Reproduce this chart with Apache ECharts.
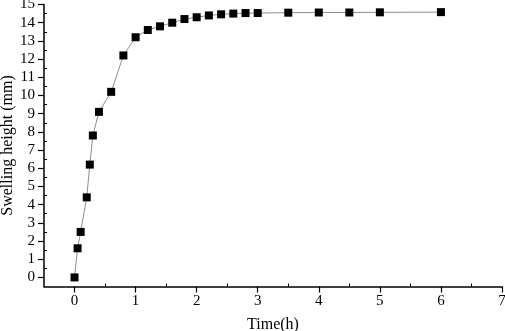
<!DOCTYPE html>
<html>
<head>
<meta charset="utf-8">
<script src="https://cdn.jsdelivr.net/npm/echarts@6/dist/echarts.min.js"></script>
<style>
  html, body { margin: 0; padding: 0; background: #fff; }
  #chart { width: 505px; height: 331px; }
</style>
</head>
<body>
<div id="chart"></div>
<script>
// Swelling test readings
const timeHours = [0, 0.05, 0.1, 0.2, 0.25, 0.3, 0.4, 0.6, 0.8, 1.0, 1.2, 1.4, 1.6, 1.8,
  2.0, 2.2, 2.4, 2.6, 2.8, 3.0, 3.5, 4.0, 4.5, 5.0, 6.0];
const swellingMm = [0, 1.6, 2.5, 4.4, 6.2, 7.8, 9.1, 10.2, 12.2, 13.2, 13.6, 13.8, 14.0, 14.2,
  14.3, 14.4, 14.46, 14.5, 14.53, 14.53, 14.55, 14.56, 14.56, 14.57, 14.58];
const xTicks = [0, 1, 2, 3, 4, 5, 6, 7];
const xMinorTicks = [0.5, 1.5, 2.5, 3.5, 4.5, 5.5, 6.5];
const yTicks = [0, 1, 2, 3, 4, 5, 6, 7, 8, 9, 10, 11, 12, 13, 14, 15];
const yMinorTicks = [0.5, 1.5, 2.5, 3.5, 4.5, 5.5, 6.5, 7.5, 8.5, 9.5, 10.5, 11.5, 12.5, 13.5, 14.5];

const serif = '"Liberation Serif", "DejaVu Serif", serif';
const chart = echarts.init(document.getElementById('chart'));

const mainAxis = (ticks) => ({
  type: 'value',
  min: -0.5,
  splitLine: { show: false },
  nameMoveOverlap: false,
  axisLine: { show: true, onZero: false, lineStyle: { color: '#000', width: 1.5 } },
  axisTick: { show: true, customValues: ticks, length: 6, lineStyle: { color: '#000', width: 1.2 } },
  axisLabel: { customValues: ticks, color: '#000', fontFamily: serif, fontSize: 15 },
});

// extra unlabeled axes carry the inward half-step ticks
const minorAxis = (ticks) => ({
  type: 'value',
  min: -0.5,
  splitLine: { show: false },
  axisLine: { show: false, onZero: false },
  axisTick: { show: true, inside: true, customValues: ticks, length: 3, lineStyle: { color: '#000', width: 1 } },
  axisLabel: { show: false },
});

const xMain = mainAxis(xTicks);
xMain.max = 7;
xMain.name = 'Time(h)';
xMain.nameLocation = 'middle';
xMain.nameGap = 30;
xMain.nameTextStyle = { color: '#000', fontFamily: serif, fontSize: 16 };
xMain.axisLabel.margin = 7;
const xMinor = minorAxis(xMinorTicks);
xMinor.max = 7;
xMinor.position = 'bottom';

const yMain = mainAxis(yTicks);
yMain.max = 15;
yMain.name = 'Swelling height (mm)';
yMain.nameLocation = 'middle';
yMain.nameGap = 28;
yMain.nameTextStyle = { color: '#000', fontFamily: serif, fontSize: 16 };
yMain.axisLabel.margin = 9;
const yMinor = minorAxis(yMinorTicks);
yMinor.max = 15;
yMinor.position = 'left';

chart.setOption({
  animation: false,
  grid: { left: 44, right: 3, top: 4.5, bottom: 44.5, outerBoundsMode: 'none' },
  xAxis: [xMain, xMinor],
  yAxis: [yMain, yMinor],
  series: [{
    type: 'line',
    data: timeHours.map((t, i) => [t, swellingMm[i]]),
    symbol: 'rect',
    symbolSize: 8,
    showAllSymbol: true,
    lineStyle: { color: '#8c8c8c', width: 1 },
    itemStyle: { color: '#000' },
  }],
});
</script>
</body>
</html>
